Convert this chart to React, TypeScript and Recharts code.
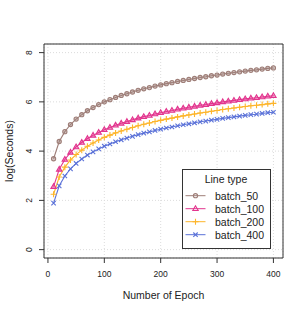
import React from 'react';
import { LineChart, Line, XAxis, YAxis, CartesianGrid, Legend, ReferenceArea, Label } from 'recharts';

const epochs = [10, 20, 30, 40, 50, 60, 70, 80, 90, 100, 110, 120, 130, 140, 150, 160, 170, 180, 190, 200, 210, 220, 230, 240, 250, 260, 270, 280, 290, 300, 310, 320, 330, 340, 350, 360, 370, 380, 390, 400];
const batch50 = [3.69, 4.39, 4.79, 5.08, 5.30, 5.48, 5.64, 5.77, 5.89, 6.00, 6.09, 6.18, 6.26, 6.33, 6.40, 6.47, 6.53, 6.58, 6.64, 6.69, 6.74, 6.78, 6.83, 6.87, 6.91, 6.95, 6.99, 7.02, 7.06, 7.09, 7.13, 7.16, 7.19, 7.22, 7.25, 7.28, 7.30, 7.33, 7.36, 7.38];
const batch100 = [2.56, 3.26, 3.66, 3.95, 4.17, 4.35, 4.51, 4.64, 4.76, 4.87, 4.96, 5.05, 5.13, 5.20, 5.27, 5.34, 5.40, 5.45, 5.51, 5.56, 5.61, 5.65, 5.70, 5.74, 5.78, 5.82, 5.86, 5.89, 5.93, 5.96, 6.00, 6.03, 6.06, 6.09, 6.12, 6.15, 6.17, 6.20, 6.23, 6.25];
const batch200 = [2.25, 2.95, 3.35, 3.64, 3.86, 4.04, 4.20, 4.33, 4.45, 4.56, 4.65, 4.74, 4.82, 4.89, 4.96, 5.03, 5.09, 5.14, 5.20, 5.25, 5.30, 5.34, 5.39, 5.43, 5.47, 5.51, 5.55, 5.58, 5.62, 5.65, 5.69, 5.72, 5.75, 5.78, 5.81, 5.84, 5.86, 5.89, 5.92, 5.94];
const batch400 = [1.89, 2.59, 2.99, 3.28, 3.50, 3.68, 3.84, 3.97, 4.09, 4.20, 4.29, 4.38, 4.46, 4.53, 4.60, 4.67, 4.73, 4.78, 4.84, 4.89, 4.94, 4.98, 5.03, 5.07, 5.11, 5.15, 5.19, 5.22, 5.26, 5.29, 5.33, 5.36, 5.39, 5.42, 5.45, 5.48, 5.50, 5.53, 5.56, 5.58];
const xTicks = [0, 100, 200, 300, 400];
const yTicks = [0, 2, 4, 6, 8];
const seriesNames = ['batch_50', 'batch_100', 'batch_200', 'batch_400'];

const colors: Record<string, string> = {
  batch_50: '#9E7E78',
  batch_100: '#E2358E',
  batch_200: '#FDB52A',
  batch_400: '#5B72D8',
};

const data = epochs.map((e, i) => ({
  epoch: e,
  batch_50: batch50[i],
  batch_100: batch100[i],
  batch_200: batch200[i],
  batch_400: batch400[i],
}));

const Marker = ({ kind, cx, cy, color, fillOp = 0 }: { kind: string; cx: number; cy: number; color: string; fillOp?: number }) => {
  if (kind === 'batch_50')
    return <circle cx={cx} cy={cy} r={2.1} fill={color} fillOpacity={fillOp} stroke={color} strokeWidth={1.1} />;
  if (kind === 'batch_100')
    return (
      <polygon
        points={`${cx},${cy - 2.9} ${cx - 2.7},${cy + 1.8} ${cx + 2.7},${cy + 1.8}`}
        fill={color}
        fillOpacity={fillOp}
        stroke={color}
        strokeWidth={1.1}
      />
    );
  if (kind === 'batch_200')
    return (
      <path d={`M${cx - 3},${cy}H${cx + 3}M${cx},${cy - 3}V${cy + 3}`} stroke={color} strokeWidth={1.1} fill="none" />
    );
  return (
    <path
      d={`M${cx - 2.2},${cy - 2.2}L${cx + 2.2},${cy + 2.2}M${cx - 2.2},${cy + 2.2}L${cx + 2.2},${cy - 2.2}`}
      stroke={color}
      strokeWidth={1.1}
      fill="none"
    />
  );
};

const makeDot = (name: string) => (p: any) => {
  if (p.cx == null || p.cy == null) return <g key={`${name}-${p.index}`} />;
  return (
    <g key={`${name}-${p.index}`}>
      <Marker kind={name} cx={p.cx} cy={p.cy} color={colors[name]} fillOp={0.45} />
    </g>
  );
};

const YTick = (p: any) => (
  <text
    x={p.x}
    y={p.y}
    transform={`rotate(-90, ${p.x}, ${p.y})`}
    textAnchor="middle"
    fontSize={8.5}
    fill="#222"
    fontFamily="Liberation Sans, Arial, sans-serif"
  >
    {p.payload.value}
  </text>
);

const LegendBox = () => (
  <svg width={90} height={81} style={{ display: 'block' }}>
    <rect x={0.5} y={0.5} width={88} height={79} fill="#fff" stroke="#333" strokeWidth={1} />
    <text x={44} y={14} textAnchor="middle" fontSize={10.5} fill="#222" fontFamily="Liberation Sans, Arial, sans-serif">
      Line type
    </text>
    {seriesNames.map((n, i) => {
      const y = 26.7 + i * 13;
      return (
        <g key={n}>
          <line x1={3.5} x2={23.5} y1={y} y2={y} stroke={colors[n]} strokeWidth={1} />
          <Marker kind={n} cx={13.5} cy={y} color={colors[n]} />
          <text x={33} y={y + 3.8} fontSize={10.5} fill="#222" fontFamily="Liberation Sans, Arial, sans-serif">
            {n}
          </text>
        </g>
      );
    })}
  </svg>
);

export default function App() {
  return (
    <div style={{ position: 'absolute', left: 0, top: 0, width: 305, height: 314, background: '#fff' }}>
      <LineChart
        width={305}
        height={314}
        data={data}
        margin={{ top: 44, right: 22, bottom: 0, left: 0 }}
        style={{ fontFamily: 'Liberation Sans, Arial, sans-serif' }}
      >
        <CartesianGrid stroke="#dcdcdc" strokeDasharray="1 2" />
        <XAxis
          dataKey="epoch"
          type="number"
          domain={[-7, 417]}
          ticks={xTicks}
          allowDataOverflow
          height={56}
          axisLine={false}
          tickSize={5}
          tickMargin={8}
          tickLine={{ stroke: '#333' }}
          tick={{ fontSize: 8.5, fill: '#222' }}
        >
          <Label
            content={() => (
              <text x={163.5} y={299} textAnchor="middle" fontSize={10.5} fill="#222" fontFamily="Liberation Sans, Arial, sans-serif">
                Number of Epoch
              </text>
            )}
          />
        </XAxis>
        <YAxis
          type="number"
          domain={[-0.34, 8.35]}
          ticks={yTicks}
          allowDataOverflow
          width={44}
          axisLine={false}
          tickSize={5}
          tickMargin={7}
          tickLine={{ stroke: '#333' }}
          tick={<YTick />}
        >
          <Label
            content={() => (
              <text
                x={13}
                y={151}
                transform="rotate(-90, 13, 151)"
                textAnchor="middle"
                fontSize={10.5}
                fill="#222"
                fontFamily="Liberation Sans, Arial, sans-serif"
              >
                log(Seconds)
              </text>
            )}
          />
        </YAxis>
        {seriesNames.map((n) => (
          <Line
            key={n}
            type="linear"
            dataKey={n}
            name={n}
            stroke={colors[n]}
            strokeWidth={1.1}
            dot={makeDot(n)}
            activeDot={false}
            isAnimationActive={false}
          />
        ))}
        <ReferenceArea
          x1={-7}
          x2={417}
          y1={-0.34}
          y2={8.35}
          fill="none"
          fillOpacity={0}
          stroke="#333"
          strokeWidth={1}
          ifOverflow="visible"
        />
        <Legend
          verticalAlign="middle"
          layout="horizontal"
          content={() => <LegendBox />}
          wrapperStyle={{ position: 'absolute', left: 182, top: 169, width: 90, height: 81 }}
        />
      </LineChart>
    </div>
  );
}
